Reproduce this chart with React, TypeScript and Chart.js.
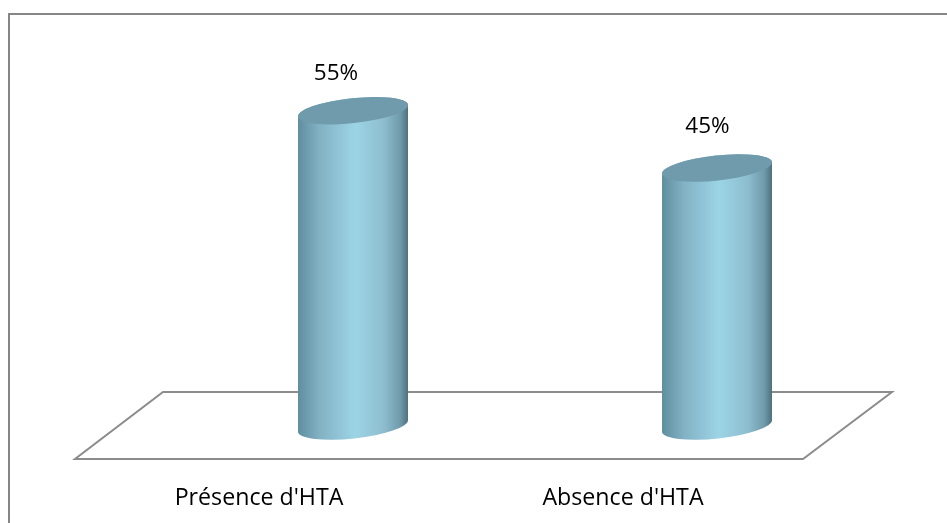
import React, { useEffect, useRef } from "react";
import { Chart, registerables } from "chart.js";

Chart.register(...registerables);

const categories = ["Présence d'HTA", "Absence d'HTA"];
const values = [55, 45];
const valueLabels = ["55%", "45%"];

const FONT = "'Open Sans', 'Noto Sans', sans-serif";

const cylinderPlugin = {
  id: "cylinder",
  beforeDraw(chart: any) {
    const { ctx, chartArea: a, canvas } = chart;
    ctx.save();
    // outer chart frame (open at the right and the bottom, as cropped in the picture)
    ctx.strokeStyle = "#868686";
    ctx.lineWidth = 2;
    ctx.beginPath();
    ctx.moveTo(9, canvas.height);
    ctx.lineTo(9, 14);
    ctx.lineTo(canvas.width, 14);
    ctx.stroke();
    // floor of the 3D plot
    const zero = chart.scales.y.getPixelForValue(0);
    ctx.strokeStyle = "#8c8c8c";
    ctx.lineWidth = 2;
    ctx.lineJoin = "miter";
    ctx.beginPath();
    ctx.moveTo(a.left - 8, zero - 34);
    ctx.lineTo(a.right - 7, zero - 34);
    ctx.lineTo(a.right - 96, zero + 33);
    ctx.lineTo(a.left - 96, zero + 33);
    ctx.closePath();
    ctx.stroke();
    ctx.restore();
  },
  beforeDatasetDraw(chart: any, args: any) {
    const { ctx } = chart;
    const meta = args.meta;
    const tilt = (6.2 * Math.PI) / 180;
    const shifts = [
      [-17, -37.5],
      [-9.5, -41.5],
    ];
    meta.data.forEach((el: any, i: number) => {
      const half = el.width / 2;
      const rx = half / Math.cos(tilt);
      const ry = 12.5;
      const left = el.x - half;
      const right = el.x + half;
      const grad = ctx.createLinearGradient(left, 0, right, 0);
      grad.addColorStop(0, "#5f8e9f");
      grad.addColorStop(0.2, "#82b2c4");
      grad.addColorStop(0.52, "#9cd4e6");
      grad.addColorStop(0.78, "#8dbecf");
      grad.addColorStop(0.93, "#6f9aaa");
      grad.addColorStop(1, "#4d717e");
      ctx.save();
      ctx.beginPath();
      ctx.ellipse(el.x, el.y, rx, ry, -tilt, Math.PI, 2 * Math.PI);
      ctx.ellipse(el.x, el.base, rx, ry, -tilt, 0, Math.PI);
      ctx.closePath();
      ctx.fillStyle = grad;
      ctx.fill();
      ctx.beginPath();
      ctx.ellipse(el.x, el.y, rx, ry, -tilt, 0, 2 * Math.PI);
      ctx.fillStyle = "#6f9bac";
      ctx.fill();
      ctx.fillStyle = "#000000";
      ctx.font = `22.5px ${FONT}`;
      ctx.textAlign = "center";
      ctx.textBaseline = "middle";
      ctx.fillText(valueLabels[i], el.x + shifts[i][0], el.y + shifts[i][1]);
      ctx.restore();
    });
    return false;
  },
};

export default function App() {
  const ref = useRef<HTMLCanvasElement | null>(null);
  useEffect(() => {
    const chart = new Chart(ref.current as HTMLCanvasElement, {
      type: "bar",
      data: {
        labels: categories,
        datasets: [
          {
            data: values,
            backgroundColor: "#93cddd",
            borderWidth: 0,
            barThickness: 110,
          },
        ],
      },
      options: {
        responsive: false,
        animation: false,
        layout: { padding: { left: 171, right: 48, top: 82, bottom: 0 } },
        plugins: { legend: { display: false }, tooltip: { enabled: false } },
        scales: {
          x: {
            grid: { display: false },
            border: { display: false },
            ticks: {
              color: "#000000",
              font: { family: FONT, size: 23.2 },
              labelOffset: -94,
              padding: 50,
              maxRotation: 0,
              autoSkip: false,
            },
            afterFit: (s: any) => {
              s.height = 97;
            },
          },
          y: { display: false, min: 0, max: 60 },
        },
      },
      plugins: [cylinderPlugin],
    } as any);
    return () => chart.destroy();
  }, []);
  return (
    <canvas
      ref={ref}
      width={947}
      height={523}
      style={{ position: "absolute", left: 0, top: 0, width: 947, height: 523 }}
    />
  );
}
